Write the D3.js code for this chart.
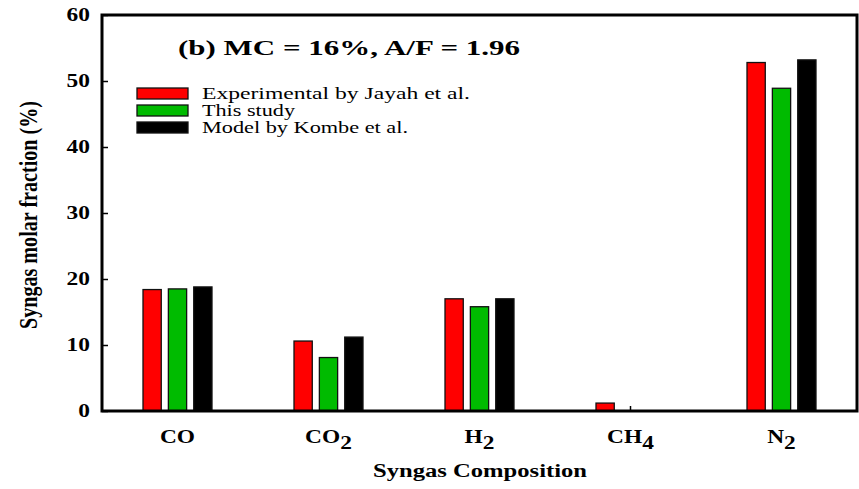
<!DOCTYPE html>
<html>
<head>
<meta charset="utf-8">
<script src="https://cdn.jsdelivr.net/npm/d3@7"></script>
<style>
  html, body { margin: 0; padding: 0; background: #fff; }
  svg { display: block; }
  text { font-family: "Liberation Serif", "Times New Roman", serif; fill: #000; }
</style>
</head>
<body>
<svg id="chart" width="859" height="489"></svg>
<script>
// Syngas composition (mol %) for MC = 16 %, A/F = 1.96
const categories = ["CO", "CO2", "H2", "CH4", "N2"];
const labelMain = ["CO", "CO", "H", "CH", "N"];
const labelSub = ["", "2", "2", "4", "2"];
const seriesNames = ["Experimental by Jayah et al.", "This study", "Model by Kombe et al."];
const seriesColors = ["#ff0000", "#00bb00", "#000000"];
const experimental = [18.4, 10.6, 17.0, 1.2, 52.8];
const thisStudy = [18.5, 8.1, 15.8, 0, 48.9];
const kombe = [18.8, 11.2, 17.0, 0, 53.2];
const yTicks = [0, 10, 20, 30, 40, 50, 60];

const seriesValues = [experimental, thisStudy, kombe];
const rows = categories.map((c, i) => ({
  cat: c,
  values: seriesNames.map((s, k) => ({ series: s, value: seriesValues[k][i], color: seriesColors[k] }))
}));

const svg = d3.select("#chart");
const plotL = 102, plotR = 857, plotT = 15, plotB = 411;

const x = d3.scaleBand().domain(categories).range([plotL, plotR]).padding(0);
const x1 = d3.scaleBand().domain(seriesNames).range([-34.5, 34.5]).paddingInner(0.28);
const y = d3.scaleLinear().domain([0, 60]).range([plotB, plotT]);

// inward tick marks
svg.append("g")
  .attr("transform", `translate(${plotL},0)`)
  .call(d3.axisLeft(y).tickValues(yTicks).tickSize(-6).tickFormat(""))
  .call(g => g.select(".domain").remove())
  .call(g => g.selectAll("line").attr("stroke", "#000").attr("stroke-width", 1.5));

svg.append("g")
  .attr("transform", `translate(0,${plotB})`)
  .call(d3.axisBottom(x).tickSize(-5).tickFormat(""))
  .call(g => g.select(".domain").remove())
  .call(g => g.selectAll("line").attr("stroke", "#000").attr("stroke-width", 1.5));

// bars
const groups = svg.append("g").selectAll("g").data(rows).join("g")
  .attr("transform", d => `translate(${x(d.cat) + x.bandwidth() / 2},0)`);

groups.selectAll("rect")
  .data(d => d.values.filter(v => v.value > 0))
  .join("rect")
  .attr("x", v => x1(v.series))
  .attr("width", x1.bandwidth())
  .attr("y", v => y(v.value))
  .attr("height", v => y(0) - y(v.value))
  .attr("fill", v => v.color)
  .attr("stroke", "#111")
  .attr("stroke-width", 1.3);

// plot frame
svg.append("rect")
  .attr("x", plotL).attr("y", plotT)
  .attr("width", plotR - plotL).attr("height", plotB - plotT)
  .attr("fill", "none").attr("stroke", "#000").attr("stroke-width", 3);

// y tick labels
svg.append("g").selectAll("text").data(yTicks).join("text")
  .attr("transform", d => `translate(90,${y(d) + 6}) scale(1.3,1)`)
  .attr("text-anchor", "end")
  .attr("font-weight", "bold")
  .attr("font-size", 18)
  .text(d => d);

// category labels with subscripts
const catLabels = svg.append("g").selectAll("text").data(categories).join("text")
  .attr("transform", (d) => `translate(${x(d) + x.bandwidth() / 2},443) scale(1.3,1)`)
  .attr("text-anchor", "middle")
  .attr("font-weight", "bold")
  .attr("font-size", 18);
catLabels.append("tspan").text((d, i) => labelMain[i]);
catLabels.append("tspan").attr("dy", 6).text((d, i) => labelSub[i]);

// axis titles
svg.append("text")
  .attr("x", 373).attr("y", 477)
  .attr("font-weight", "bold").attr("font-size", 18)
  .attr("textLength", 214).attr("lengthAdjust", "spacingAndGlyphs")
  .text("Syngas Composition");

svg.append("text")
  .attr("transform", "translate(37,215) scale(1.3,1) rotate(-90)")
  .attr("text-anchor", "middle")
  .attr("font-weight", "bold").attr("font-size", 19)
  .attr("textLength", 228).attr("lengthAdjust", "spacingAndGlyphs")
  .text("Syngas molar fraction (%)");

// panel title
svg.append("text")
  .attr("x", 178).attr("y", 55)
  .attr("font-weight", "bold").attr("font-size", 20)
  .attr("textLength", 342).attr("lengthAdjust", "spacingAndGlyphs")
  .text("(b) MC = 16%, A/F = 1.96");

// legend
const legendWidths = [268, 93, 206];
const legend = svg.append("g").selectAll("g").data(seriesNames).join("g")
  .attr("transform", (d, i) => `translate(137,${88 + i * 17})`);
legend.append("rect")
  .attr("width", 51).attr("height", 11)
  .attr("fill", (d, i) => seriesColors[i])
  .attr("stroke", "#111").attr("stroke-width", 1.3);
legend.append("text")
  .attr("x", 65).attr("y", 11)
  .attr("font-size", 16)
  .attr("textLength", (d, i) => legendWidths[i]).attr("lengthAdjust", "spacingAndGlyphs")
  .text(d => d);
</script>
</body>
</html>
